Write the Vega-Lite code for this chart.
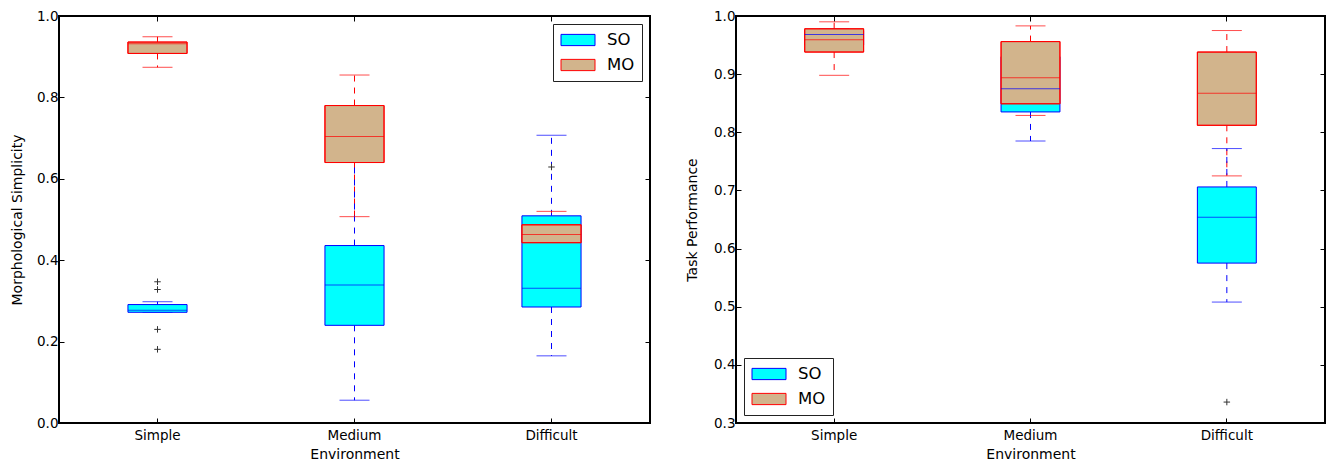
{
  "$schema": "https://vega.github.io/schema/vega-lite/v6.json",
  "padding": {"left": 9, "top": 8, "right": 5, "bottom": 0},
  "spacing": 32,
  "config": {
    "font": "DejaVu Sans",
    "view": {"stroke": "black", "strokeWidth": 2},
    "axis": {"grid": false, "domain": false, "labelFont": "DejaVu Sans", "labelFontSize": 13.5, "labelColor": "black", "titleFont": "DejaVu Sans", "titleFontSize": 14, "titleFontWeight": "normal", "titleColor": "black", "tickColor": "black", "tickSize": -5, "labelPadding": 6, "titlePadding": 6},
    "legend": {"labelFont": "DejaVu Sans", "labelFontSize": 16.5, "labelColor": "black", "strokeColor": "#222222", "fillColor": "white", "padding": 7, "offset": 8, "symbolType": "M-2,-0.66H2V0.66H-2Z", "symbolSize": 289, "symbolOffset": 9, "symbolStrokeWidth": 1, "labelOffset": 20, "rowPadding": 7}
  },
  "datasets": {
    "left": [
      {"env": "Simple", "grp": "SO", "lo": 0.272, "q1": 0.272, "med": 0.277, "q3": 0.291, "hi": 0.298},
      {"env": "Medium", "grp": "SO", "lo": 0.056, "q1": 0.240, "med": 0.339, "q3": 0.436, "hi": 0.70},
      {"env": "Difficult", "grp": "SO", "lo": 0.165, "q1": 0.285, "med": 0.331, "q3": 0.509, "hi": 0.707},
      {"env": "Simple", "grp": "MO", "lo": 0.874, "q1": 0.908, "med": 0.932, "q3": 0.936, "hi": 0.949},
      {"env": "Medium", "grp": "MO", "lo": 0.507, "q1": 0.640, "med": 0.704, "q3": 0.780, "hi": 0.855},
      {"env": "Difficult", "grp": "MO", "lo": 0.42, "q1": 0.443, "med": 0.463, "q3": 0.487, "hi": 0.520}
    ],
    "leftOut": [
      {"env": "Simple", "v": 0.347},
      {"env": "Simple", "v": 0.328},
      {"env": "Simple", "v": 0.230},
      {"env": "Simple", "v": 0.181},
      {"env": "Difficult", "v": 0.629}
    ],
    "right": [
      {"env": "Simple", "grp": "SO", "lo": 0.942, "q1": 0.950, "med": 0.968, "q3": 0.975, "hi": 0.978},
      {"env": "Medium", "grp": "SO", "lo": 0.785, "q1": 0.835, "med": 0.875, "q3": 0.930, "hi": 0.955},
      {"env": "Difficult", "grp": "SO", "lo": 0.508, "q1": 0.575, "med": 0.654, "q3": 0.706, "hi": 0.772},
      {"env": "Simple", "grp": "MO", "lo": 0.898, "q1": 0.938, "med": 0.959, "q3": 0.978, "hi": 0.990},
      {"env": "Medium", "grp": "MO", "lo": 0.829, "q1": 0.849, "med": 0.894, "q3": 0.956, "hi": 0.983},
      {"env": "Difficult", "grp": "MO", "lo": 0.725, "q1": 0.812, "med": 0.867, "q3": 0.938, "hi": 0.975}
    ],
    "rightOut": [
      {"env": "Difficult", "v": 0.336}
    ]
  },
  "hconcat": [
    {
      "width": 591,
      "height": 407,
      "data": {"name": "left"},
      "resolve": {"axis": {"x": "independent", "y": "independent"}},
      "layer": [
        {
          "mark": {"type": "rule", "strokeDash": [6, 6], "strokeWidth": 1},
          "encoding": {
            "x": {"field": "env", "type": "nominal", "sort": ["Simple", "Medium", "Difficult"], "scale": {"paddingInner": 0, "paddingOuter": 0}, "axis": {"orient": "bottom", "title": "Environment", "labelAngle": 0, "labelPadding": 10, "titlePadding": 6}},
            "y": {"field": "q1", "type": "quantitative", "scale": {"domain": [0, 1], "nice": false, "zero": false}, "axis": {"orient": "left", "title": "Morphological Simplicity", "values": [0, 0.2, 0.4, 0.6, 0.8, 1.0], "format": ".1f", "minExtent": 28, "maxExtent": 28, "titlePadding": 7}},
            "y2": {"field": "lo"},
            "color": {"field": "grp", "type": "nominal", "scale": {"domain": ["SO", "MO"], "range": ["#0000ff", "#ff0000"]}, "legend": null}
          }
        },
        {
          "mark": {"type": "rule", "strokeDash": [6, 6], "strokeWidth": 1},
          "encoding": {
            "x": {"field": "env", "type": "nominal", "sort": ["Simple", "Medium", "Difficult"], "axis": {"orient": "top", "labels": false, "title": null, "minExtent": 0, "maxExtent": 0}},
            "y": {"field": "q3", "type": "quantitative", "axis": {"orient": "right", "labels": false, "title": null, "values": [0, 0.2, 0.4, 0.6, 0.8, 1.0], "minExtent": 0, "maxExtent": 0}},
            "y2": {"field": "hi"},
            "color": {"field": "grp", "type": "nominal", "legend": null}
          }
        },
        {
          "mark": {"type": "tick", "size": 30, "thickness": 1},
          "encoding": {
            "x": {"field": "env", "type": "nominal", "sort": ["Simple", "Medium", "Difficult"], "axis": null},
            "y": {"field": "lo", "type": "quantitative", "axis": null},
            "color": {"field": "grp", "type": "nominal", "legend": null}
          }
        },
        {
          "mark": {"type": "tick", "size": 30, "thickness": 1},
          "encoding": {
            "x": {"field": "env", "type": "nominal", "sort": ["Simple", "Medium", "Difficult"], "axis": null},
            "y": {"field": "hi", "type": "quantitative", "axis": null},
            "color": {"field": "grp", "type": "nominal", "legend": null}
          }
        },
        {
          "mark": {"type": "bar", "width": {"band": 0.3}, "strokeWidth": 1},
          "encoding": {
            "x": {"field": "env", "type": "nominal", "sort": ["Simple", "Medium", "Difficult"], "axis": null},
            "y": {"field": "q1", "type": "quantitative", "axis": null},
            "y2": {"field": "q3"},
            "fill": {"field": "grp", "type": "nominal", "scale": {"domain": ["SO", "MO"], "range": ["#00ffff", "#d2b48c"]}, "legend": {"title": null, "orient": "top-right"}},
            "stroke": {"field": "grp", "type": "nominal", "scale": {"domain": ["SO", "MO"], "range": ["#0000ff", "#ff0000"]}, "legend": {"title": null, "orient": "top-right"}}
          }
        },
        {
          "transform": [{"filter": "datum.grp === 'MO'"}],
          "mark": {"type": "bar", "width": {"band": 0.3}, "fill": null, "fillOpacity": 0, "stroke": "#ff0000", "strokeWidth": 1},
          "encoding": {
            "x": {"field": "env", "type": "nominal", "sort": ["Simple", "Medium", "Difficult"], "axis": null},
            "y": {"field": "q1", "type": "quantitative", "axis": null},
            "y2": {"field": "q3"}
          }
        },
        {
          "mark": {"type": "tick", "size": 59, "thickness": 1},
          "encoding": {
            "x": {"field": "env", "type": "nominal", "sort": ["Simple", "Medium", "Difficult"], "axis": null},
            "y": {"field": "med", "type": "quantitative", "axis": null},
            "color": {"field": "grp", "type": "nominal", "legend": null}
          }
        },
        {
          "data": {"name": "leftOut"},
          "mark": {"type": "point", "shape": "M-1,0H1M0,-1V1", "size": 42, "filled": false, "stroke": "#333333", "strokeWidth": 1, "opacity": 1},
          "encoding": {
            "x": {"field": "env", "type": "nominal", "sort": ["Simple", "Medium", "Difficult"], "axis": null},
            "y": {"field": "v", "type": "quantitative", "axis": null}
          }
        }
      ]
    },
    {
      "width": 589,
      "height": 407,
      "data": {"name": "right"},
      "resolve": {"axis": {"x": "independent", "y": "independent"}},
      "layer": [
        {
          "mark": {"type": "rule", "strokeDash": [6, 6], "strokeWidth": 1},
          "encoding": {
            "x": {"field": "env", "type": "nominal", "sort": ["Simple", "Medium", "Difficult"], "scale": {"paddingInner": 0, "paddingOuter": 0}, "axis": {"orient": "bottom", "title": "Environment", "labelAngle": 0, "labelPadding": 10, "titlePadding": 6}},
            "y": {"field": "q1", "type": "quantitative", "scale": {"domain": [0.3, 1], "nice": false, "zero": false}, "axis": {"orient": "left", "title": "Task Performance", "values": [0.3, 0.4, 0.5, 0.6, 0.7, 0.8, 0.9, 1.0], "format": ".1f", "minExtent": 28, "maxExtent": 28, "titlePadding": 9}},
            "y2": {"field": "lo"},
            "color": {"field": "grp", "type": "nominal", "scale": {"domain": ["SO", "MO"], "range": ["#0000ff", "#ff0000"]}, "legend": null}
          }
        },
        {
          "mark": {"type": "rule", "strokeDash": [6, 6], "strokeWidth": 1},
          "encoding": {
            "x": {"field": "env", "type": "nominal", "sort": ["Simple", "Medium", "Difficult"], "axis": {"orient": "top", "labels": false, "title": null, "minExtent": 0, "maxExtent": 0}},
            "y": {"field": "q3", "type": "quantitative", "axis": {"orient": "right", "labels": false, "title": null, "values": [0.3, 0.4, 0.5, 0.6, 0.7, 0.8, 0.9, 1.0], "minExtent": 0, "maxExtent": 0}},
            "y2": {"field": "hi"},
            "color": {"field": "grp", "type": "nominal", "legend": null}
          }
        },
        {
          "mark": {"type": "tick", "size": 30, "thickness": 1},
          "encoding": {
            "x": {"field": "env", "type": "nominal", "sort": ["Simple", "Medium", "Difficult"], "axis": null},
            "y": {"field": "lo", "type": "quantitative", "axis": null},
            "color": {"field": "grp", "type": "nominal", "legend": null}
          }
        },
        {
          "mark": {"type": "tick", "size": 30, "thickness": 1},
          "encoding": {
            "x": {"field": "env", "type": "nominal", "sort": ["Simple", "Medium", "Difficult"], "axis": null},
            "y": {"field": "hi", "type": "quantitative", "axis": null},
            "color": {"field": "grp", "type": "nominal", "legend": null}
          }
        },
        {
          "mark": {"type": "bar", "width": {"band": 0.3}, "strokeWidth": 1},
          "encoding": {
            "x": {"field": "env", "type": "nominal", "sort": ["Simple", "Medium", "Difficult"], "axis": null},
            "y": {"field": "q1", "type": "quantitative", "axis": null},
            "y2": {"field": "q3"},
            "fill": {"field": "grp", "type": "nominal", "scale": {"domain": ["SO", "MO"], "range": ["#00ffff", "#d2b48c"]}, "legend": {"title": null, "orient": "bottom-left"}},
            "stroke": {"field": "grp", "type": "nominal", "scale": {"domain": ["SO", "MO"], "range": ["#0000ff", "#ff0000"]}, "legend": {"title": null, "orient": "bottom-left"}}
          }
        },
        {
          "transform": [{"filter": "datum.grp === 'MO'"}],
          "mark": {"type": "bar", "width": {"band": 0.3}, "fill": null, "fillOpacity": 0, "stroke": "#ff0000", "strokeWidth": 1},
          "encoding": {
            "x": {"field": "env", "type": "nominal", "sort": ["Simple", "Medium", "Difficult"], "axis": null},
            "y": {"field": "q1", "type": "quantitative", "axis": null},
            "y2": {"field": "q3"}
          }
        },
        {
          "mark": {"type": "tick", "size": 59, "thickness": 1},
          "encoding": {
            "x": {"field": "env", "type": "nominal", "sort": ["Simple", "Medium", "Difficult"], "axis": null},
            "y": {"field": "med", "type": "quantitative", "axis": null},
            "color": {"field": "grp", "type": "nominal", "legend": null}
          }
        },
        {
          "data": {"name": "rightOut"},
          "mark": {"type": "point", "shape": "M-1,0H1M0,-1V1", "size": 42, "filled": false, "stroke": "#333333", "strokeWidth": 1, "opacity": 1},
          "encoding": {
            "x": {"field": "env", "type": "nominal", "sort": ["Simple", "Medium", "Difficult"], "axis": null},
            "y": {"field": "v", "type": "quantitative", "axis": null}
          }
        }
      ]
    }
  ]
}
